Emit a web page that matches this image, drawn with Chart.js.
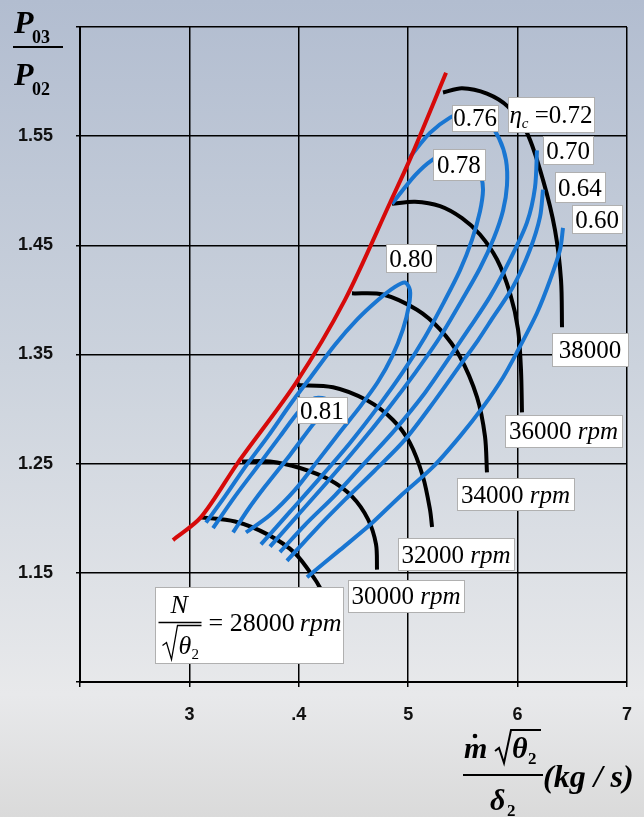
<!DOCTYPE html>
<html>
<head>
<meta charset="utf-8">
<title>Compressor map</title>
<script src="https://cdn.jsdelivr.net/npm/chart.js@4.4.0/dist/chart.umd.min.js"></script>
<style>
  html, body { margin: 0; padding: 0; }
  #wrap { width: 644px; height: 817px; position: relative; }
</style>
</head>
<body>
<div id="wrap"><canvas id="map"></canvas></div>
<script>
// compressor map: surge line, corrected speed lines, efficiency islands

// axes
const xTickValues = [2, 3, 4, 5, 6, 7];
const xTickLabels = ['', '3', '.4', '5', '6', '7'];
const yTickValues = [1.05, 1.15, 1.25, 1.35, 1.45, 1.55, 1.65];
const yTickLabels = ['', '1.15', '1.25', '1.35', '1.45', '1.55', ''];

// surge line (red)
const surgeX = [2.850, 3.106, 3.444, 3.974, 4.422, 4.834, 5.026, 5.346];
const surgeY = [1.180, 1.201, 1.251, 1.324, 1.400, 1.489, 1.531, 1.608];

// constant speed lines N/sqrt(theta2) (black)
const rpm28000X = [3.097, 3.417, 3.718, 3.965, 4.148, 4.212];
const rpm28000Y = [1.201, 1.197, 1.185, 1.168, 1.144, 1.133];
const rpm30000X = [3.481, 3.737, 4.011, 4.285, 4.486, 4.633, 4.706, 4.715];
const rpm30000Y = [1.252, 1.252, 1.246, 1.235, 1.220, 1.199, 1.176, 1.153];
const rpm32000X = [3.984, 4.313, 4.623, 4.861, 5.016, 5.135, 5.199, 5.218];
const rpm32000Y = [1.322, 1.320, 1.308, 1.290, 1.269, 1.238, 1.208, 1.192];
const rpm34000X = [4.486, 4.770, 5.080, 5.291, 5.473, 5.629, 5.702, 5.720];
const rpm34000Y = [1.406, 1.405, 1.391, 1.373, 1.348, 1.311, 1.275, 1.242];
const rpm36000X = [4.852, 5.062, 5.291, 5.492, 5.656, 5.812, 5.931, 6.004, 6.031, 6.040];
const rpm36000Y = [1.488, 1.490, 1.486, 1.475, 1.460, 1.437, 1.406, 1.373, 1.336, 1.297];
const rpm38000X = [5.318, 5.492, 5.720, 5.912, 6.086, 6.232, 6.342, 6.397, 6.406];
const rpm38000Y = [1.590, 1.594, 1.589, 1.577, 1.553, 1.510, 1.464, 1.418, 1.375];

// efficiency contours (blue)
const eff081X = [3.216, 3.417, 3.627, 3.828, 4.011, 4.148, 4.267, 4.239, 4.130, 3.920, 3.691, 3.536, 3.399];
const eff081Y = [1.191, 1.220, 1.248, 1.275, 1.299, 1.310, 1.308, 1.299, 1.286, 1.258, 1.229, 1.208, 1.187];
const eff080X = [3.152, 3.325, 3.517, 3.718, 3.920, 4.121, 4.331, 4.532, 4.724, 4.879, 4.971, 5.016, 5.007,
                 4.952, 4.852, 4.724, 4.559, 4.377, 4.176, 3.965, 3.737, 3.517];
const eff080Y = [1.196, 1.220, 1.248, 1.275, 1.304, 1.331, 1.359, 1.382, 1.400, 1.412, 1.416, 1.409, 1.395,
                 1.373, 1.348, 1.325, 1.302, 1.279, 1.253, 1.226, 1.203, 1.187];
const eff078X = [3.654, 3.920, 4.194, 4.468, 4.724, 4.952, 5.154, 5.327, 5.473, 5.583, 5.656, 5.684, 5.665,
                 5.611, 5.473, 5.336, 5.218, 5.062, 4.852];
const eff078Y = [1.176, 1.206, 1.237, 1.269, 1.302, 1.334, 1.366, 1.398, 1.427, 1.455, 1.481, 1.501, 1.514,
                 1.528, 1.535, 1.533, 1.528, 1.514, 1.488];
const eff076X = [3.737, 3.984, 4.258, 4.532, 4.806, 5.062, 5.291, 5.492, 5.656, 5.784, 5.867, 5.903, 5.894,
                 5.830, 5.702, 5.519, 5.382, 5.199, 5.016];
const eff076Y = [1.174, 1.202, 1.233, 1.265, 1.299, 1.333, 1.366, 1.400, 1.429, 1.457, 1.482, 1.505, 1.528,
                 1.548, 1.567, 1.572, 1.567, 1.553, 1.531];
const eff070X = [3.828, 4.057, 4.331, 4.605, 4.879, 5.154, 5.382, 5.565, 5.748, 5.931, 6.086, 6.159, 6.177];
const eff070Y = [1.169, 1.194, 1.221, 1.251, 1.281, 1.315, 1.348, 1.375, 1.403, 1.437, 1.471, 1.503, 1.537];
const eff064X = [3.892, 4.148, 4.422, 4.697, 4.971, 5.245, 5.473, 5.638, 5.775, 5.958, 6.113, 6.205, 6.232];
const eff064Y = [1.161, 1.189, 1.217, 1.244, 1.272, 1.308, 1.340, 1.363, 1.384, 1.412, 1.446, 1.476, 1.501];
const eff060X = [4.075, 4.377, 4.651, 4.925, 5.227, 5.473, 5.684, 5.867, 6.004, 6.177, 6.296, 6.388, 6.415];
const eff060Y = [1.146, 1.171, 1.194, 1.220, 1.247, 1.275, 1.302, 1.329, 1.354, 1.388, 1.418, 1.446, 1.466];

const SERIF = '"Liberation Serif", "Times New Roman", Times, serif';
const SANS = '"Liberation Sans", Arial, sans-serif';
const BLUE = '#1976d2';
const RED = '#d60a0a';

function pts(xs, ys){
    return xs.map((v, i) => ({x: v, y: ys[i]}));
}

function curve(xs, ys, color, order){
    return {
        data: pts(xs, ys),
        showLine: true,
        borderColor: color,
        borderWidth: 4,
        pointRadius: 0,
        tension: 0.3,
        fill: false,
        order: order
    };
}

const datasets = [
    curve(surgeX, surgeY, RED, 0),
    curve(eff081X, eff081Y, BLUE, 1),
    curve(eff080X, eff080Y, BLUE, 1),
    curve(eff078X, eff078Y, BLUE, 1),
    curve(eff076X, eff076Y, BLUE, 1),
    curve(eff070X, eff070Y, BLUE, 1),
    curve(eff064X, eff064Y, BLUE, 1),
    curve(eff060X, eff060Y, BLUE, 1),
    curve(rpm28000X, rpm28000Y, '#000', 2),
    curve(rpm30000X, rpm30000Y, '#000', 2),
    curve(rpm32000X, rpm32000Y, '#000', 2),
    curve(rpm34000X, rpm34000Y, '#000', 2),
    curve(rpm36000X, rpm36000Y, '#000', 2),
    curve(rpm38000X, rpm38000Y, '#000', 2)
];

// text runs for the boxed labels
const NUM = '25px ' + SERIF;
const IT = 'italic 25px ' + SERIF;
const SUB = 'italic 15px ' + SERIF;

function runsWidth(ctx, runs){
    let w = 0;
    runs.forEach(r => { ctx.font = r.font; w += ctx.measureText(r.t).width; });
    return w;
}
function drawRuns(ctx, runs, x, base){
    runs.forEach(r => {
        ctx.font = r.font;
        ctx.fillText(r.t, x, base + (r.dy || 0));
        x += ctx.measureText(r.t).width;
    });
}

function drawSpeedFraction(ctx, ox, oy){
    ctx.font = 'italic 26px ' + SERIF;
    ctx.fillText('N', ox + 15, oy + 25);
    ctx.strokeStyle = '#000';
    ctx.lineWidth = 1.3;
    ctx.beginPath(); ctx.moveTo(ox + 3, oy + 35); ctx.lineTo(ox + 46, oy + 35); ctx.stroke();
    ctx.beginPath();
    ctx.moveTo(ox + 7, oy + 58); ctx.lineTo(ox + 11, oy + 55); ctx.lineTo(ox + 16, oy + 72);
    ctx.lineTo(ox + 22, oy + 38); ctx.lineTo(ox + 46, oy + 38);
    ctx.stroke();
    ctx.fillText('\u03B8', ox + 23, oy + 66);
    ctx.font = '15px ' + SERIF;
    ctx.fillText('2', ox + 36, oy + 71);
    ctx.font = '26px ' + SERIF;
    ctx.fillText('= 28000', ox + 53, oy + 43);
    const w = ctx.measureText('= 28000').width;
    ctx.font = 'italic 26px ' + SERIF;
    ctx.fillText('rpm', ox + 53 + w + 5, oy + 43);
}

// label boxes: anchor in data units, box size in px
const tags = [
    {at: [5.611, 1.567], w: 46, h: 26, runs: [{t: '0.76', font: NUM}]},
    {at: [6.305, 1.570], w: 86, h: 35, runs: [{t: '\u03B7', font: IT}, {t: 'c', font: SUB, dy: 5}, {t: ' =0.72', font: NUM}]},
    {at: [6.461, 1.537], w: 50, h: 28, runs: [{t: '0.70', font: NUM}]},
    {at: [5.464, 1.524], w: 52, h: 31, runs: [{t: '0.78', font: NUM}]},
    {at: [6.570, 1.503], w: 50, h: 30, runs: [{t: '0.64', font: NUM}]},
    {at: [6.726, 1.474], w: 50, h: 28, runs: [{t: '0.60', font: NUM}]},
    {at: [5.026, 1.438], w: 50, h: 28, runs: [{t: '0.80', font: NUM}]},
    {at: [4.212, 1.299], w: 50, h: 26, runs: [{t: '0.81', font: NUM}]},
    {at: [6.662, 1.355], w: 76, h: 33, runs: [{t: '38000', font: NUM}]},
    {at: [6.420, 1.280], w: 117, h: 32, runs: [{t: '36000 ', font: NUM}, {t: 'rpm', font: IT}]},
    {at: [5.981, 1.222], w: 117, h: 32, runs: [{t: '34000 ', font: NUM}, {t: 'rpm', font: IT}]},
    {at: [5.437, 1.167], w: 116, h: 32, runs: [{t: '32000 ', font: NUM}, {t: 'rpm', font: IT}]},
    {at: [4.980, 1.129], w: 116, h: 32, runs: [{t: '30000 ', font: NUM}, {t: 'rpm', font: IT}]},
    {at: [3.545, 1.102], w: 188, h: 76, draw: drawSpeedFraction}
];

const backdrop = {
    id: 'backdrop',
    beforeDraw(chart){
        const {ctx, width, height} = chart;
        const g = ctx.createLinearGradient(0, 0, 0, height);
        g.addColorStop(0, '#b2bdd0');
        g.addColorStop(0.45, '#ccd3dd');
        g.addColorStop(0.85, '#e8e9eb');
        g.addColorStop(1, '#dadada');
        ctx.save();
        ctx.fillStyle = g;
        ctx.fillRect(0, 0, width, height);
        ctx.restore();
    }
};

const labelBoxes = {
    id: 'labelBoxes',
    afterDatasetsDraw(chart){
        const {ctx, scales: {x, y}} = chart;
        ctx.save();
        ctx.textAlign = 'left';
        ctx.textBaseline = 'alphabetic';
        tags.forEach(tag => {
            const cx = x.getPixelForValue(tag.at[0]);
            const cy = y.getPixelForValue(tag.at[1]);
            const left = Math.round(cx - tag.w / 2) + 0.5;
            const top = Math.round(cy - tag.h / 2) + 0.5;
            ctx.fillStyle = '#fff';
            ctx.fillRect(left, top, tag.w, tag.h);
            ctx.strokeStyle = '#b0b0b0';
            ctx.lineWidth = 1;
            ctx.strokeRect(left, top, tag.w, tag.h);
            ctx.fillStyle = '#000';
            if(tag.draw){
                tag.draw(ctx, left, top);
            } else {
                const w = runsWidth(ctx, tag.runs);
                drawRuns(ctx, tag.runs, cx - w / 2, cy + 8.5);
            }
        });
        ctx.restore();
    }
};

const axisTitles = {
    id: 'axisTitles',
    afterDraw(chart){
        const ctx = chart.ctx;
        ctx.save();
        ctx.fillStyle = '#000';
        ctx.strokeStyle = '#000';
        ctx.textAlign = 'left';
        ctx.textBaseline = 'alphabetic';

        // P03 / P02
        ctx.font = 'bold italic 32px ' + SERIF;
        ctx.fillText('P', 14, 33);
        ctx.fillText('P', 14, 85);
        ctx.font = 'bold 18px ' + SERIF;
        ctx.fillText('03', 32, 43);
        ctx.fillText('02', 32, 95);
        ctx.lineWidth = 2;
        ctx.beginPath(); ctx.moveTo(13, 47); ctx.lineTo(63, 47); ctx.stroke();

        // m dot sqrt(theta2) / delta2 (kg / s)
        ctx.font = 'bold italic 30px ' + SERIF;
        ctx.fillText('m', 464, 758);
        ctx.beginPath(); ctx.arc(475, 736, 2.3, 0, Math.PI * 2); ctx.fill();
        ctx.lineWidth = 2;
        ctx.beginPath();
        ctx.moveTo(495, 751); ctx.lineTo(499, 748); ctx.lineTo(504, 763);
        ctx.lineTo(511, 730); ctx.lineTo(541, 730);
        ctx.stroke();
        ctx.fillText('\u03B8', 512, 758);
        ctx.fillText('\u03B4', 490, 810);
        ctx.font = 'bold 17px ' + SERIF;
        ctx.fillText('2', 528, 764);
        ctx.fillText('2', 507, 816);
        ctx.beginPath(); ctx.moveTo(463, 775); ctx.lineTo(543, 775); ctx.stroke();
        ctx.font = 'bold italic 32px ' + SERIF;
        ctx.fillText('(kg / s)', 543, 787);
        ctx.restore();
    }
};

// keep the plot frame where the reference has it
function noScalePadding(axis){
    axis.paddingTop = 0;
    axis.paddingBottom = 0;
    axis.paddingLeft = 0;
    axis.paddingRight = 0;
}

new Chart(document.getElementById('map'), {
    type: 'scatter',
    data: { datasets: datasets },
    options: {
        responsive: true,
        maintainAspectRatio: false,
        animation: false,
        events: [],
        layout: { padding: { top: 27, right: 17, left: 0, bottom: 0 } },
        plugins: {
            legend: { display: false },
            tooltip: { enabled: false }
        },
        scales: {
            x: {
                type: 'linear',
                min: 2,
                max: 7,
                afterBuildTicks: axis => { axis.ticks = xTickValues.map(v => ({value: v})); },
                afterFit: axis => { axis.height = 135; noScalePadding(axis); },
                ticks: {
                    autoSkip: false,
                    maxRotation: 0,
                    padding: 17,
                    color: '#111',
                    font: { family: SANS, size: 18, weight: 'bold' },
                    callback: (v, i) => xTickLabels[i]
                },
                grid: { color: '#000', lineWidth: 1.5, tickLength: 5, tickColor: '#000' },
                border: { display: true, color: '#000', width: 2 }
            },
            y: {
                type: 'linear',
                min: 1.05,
                max: 1.65,
                afterBuildTicks: axis => { axis.ticks = yTickValues.map(v => ({value: v})); },
                afterFit: axis => { axis.width = 80; noScalePadding(axis); },
                ticks: {
                    autoSkip: false,
                    padding: 23,
                    color: '#111',
                    font: { family: SANS, size: 18, weight: 'bold' },
                    callback: (v, i) => yTickLabels[i]
                },
                grid: { color: '#000', lineWidth: 1.5, tickLength: 4, tickColor: '#000' },
                border: { display: true, color: '#000', width: 2 }
            }
        }
    },
    plugins: [backdrop, labelBoxes, axisTitles]
});
</script>
</body>
</html>
